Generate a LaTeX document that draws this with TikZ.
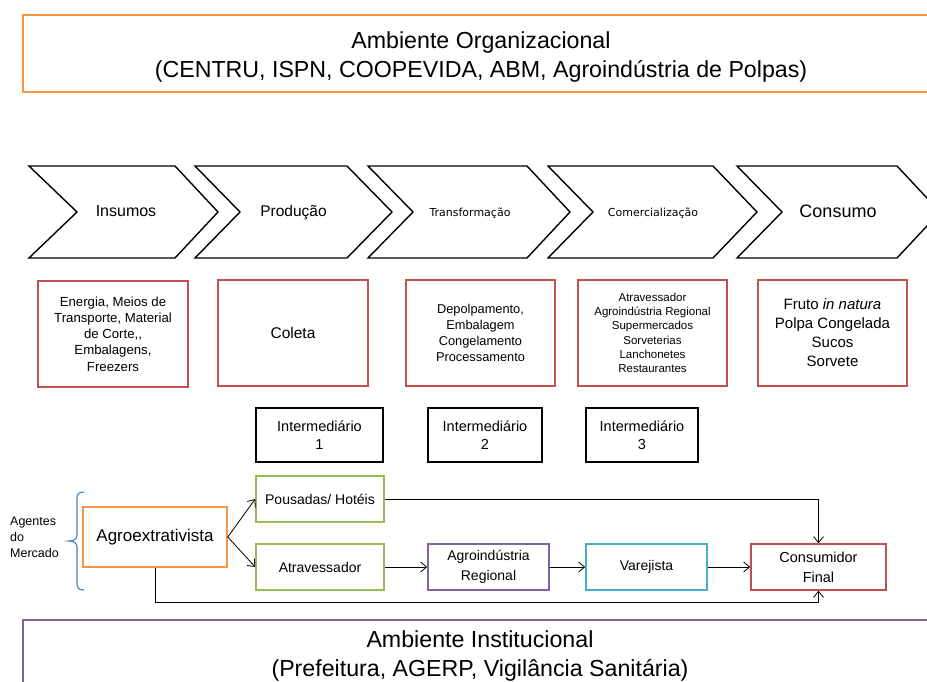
\documentclass[tikz,border=0pt]{standalone}
\usepackage{fontspec}
\setmainfont{Liberation Sans}
\newfontfamily\dejav{DejaVu Sans}
\usetikzlibrary{arrows.meta}
\definecolor{orgorange}{HTML}{F79646}
\definecolor{redbox}{HTML}{C0504D}
\definecolor{greenbox}{HTML}{9BBB59}
\definecolor{purplebox}{HTML}{8064A2}
\definecolor{bluebox}{HTML}{4BACC6}
\definecolor{bracecol}{HTML}{4F81BD}
\begin{document}
\begin{tikzpicture}[x=1pt,y=-1pt,
  envbox/.style={draw, line width=1.6pt, inner sep=0pt},
  envtxt/.style={inner sep=0pt, align=center, font=\fontsize{23.2}{29.5}\selectfont},
  chev/.style={draw=black, line width=1.4pt, line join=miter},
  chlbl/.style={inner sep=0pt, align=center, text height=0.72em, text depth=0pt},
  redbx/.style={draw=redbox, line width=1.6pt, inner sep=0pt, align=center, minimum height=106pt},
  midbx/.style={draw=black, line width=1.8pt, inner sep=0pt, align=center, minimum height=54pt, font=\fontsize{14.5}{18}\selectfont},
  agbx/.style={line width=1.6pt, inner sep=0pt, align=center, minimum height=46pt, font=\fontsize{14}{20}\selectfont},
  arr/.style={-{Straight Barb[length=6pt,width=10pt]}, line width=0.8pt}
]
\clip (0,0) rectangle (927,682);

% organizational environment
\node[envbox, draw=orgorange, minimum width=916pt, minimum height=77pt] (org) at (481,53.5) {};
\node[envtxt] (orgtxt) at (481,57) {Ambiente Organizacional\\(CENTRU, ISPN, COOPEVIDA, ABM, Agroindústria de Polpas)};

% chevrons
\draw[chev] (29,166) -- (175,166) -- (218,212) -- (175,258) -- (29,258) -- (77,212) -- cycle;
\draw[chev] (195,166) -- (347,166) -- (392,212) -- (347,258) -- (195,258) -- (240,212) -- cycle;
\draw[chev] (368,166) -- (527,166) -- (570,212) -- (527,258) -- (368,258) -- (413,212) -- cycle;
\draw[chev] (548,166) -- (713,166) -- (757,212) -- (713,258) -- (548,258) -- (593,212) -- cycle;
\draw[chev] (737,166) -- (897,166) -- (940,212) -- (897,258) -- (737,258) -- (782,212) -- cycle;
\node[chlbl, font=\fontsize{16}{19}\selectfont] (ch1) at (126,213) {Insumos};
\node[chlbl, font=\fontsize{15.5}{19}\selectfont] (ch2) at (293.5,213) {Produção};
\node[chlbl, font=\dejav\fontsize{11}{13}\selectfont] (ch3) at (470,213) {Transformação};
\node[chlbl, font=\dejav\fontsize{11}{13}\selectfont] (ch4) at (653,213) {Comercialização};
\node[chlbl, font=\fontsize{18}{21}\selectfont] (ch5) at (838,214) {Consumo};

% red boxes
\node[redbx, minimum width=150pt, font=\fontsize{13.2}{16.2}\selectfont] (r1) at (113,334)
  {Energia, Meios de\\Transporte, Material\\de Corte,\kern0pt,\\Embalagens,\\Freezers};
\node[redbx, minimum width=150pt, font=\fontsize{15.5}{19}\selectfont] (r2) at (293,333) {Coleta};
\node[redbx, minimum width=149pt, font=\fontsize{12.8}{16}\selectfont] (r3) at (480.5,333)
  {Depolpamento,\\Embalagem\\Congelamento\\Processamento};
\node[redbx, minimum width=149pt, font=\fontsize{11.5}{14.3}\selectfont] (r4) at (652.5,333)
  {Atravessador\\Agroindústria Regional\\Supermercados\\Sorveterias\\Lanchonetes\\Restaurantes};
\node[redbx, minimum width=149pt, font=\fontsize{15}{19}\selectfont] (r5) at (832.5,333)
  {Fruto \textit{in natura}\\Polpa Congelada\\Sucos\\Sorvete};

% intermediaries
\node[midbx, minimum width=127pt] (i1) at (319.5,435) {Intermediário\\1};
\node[midbx, minimum width=114pt] (i2) at (485,435) {Intermediário\\2};
\node[midbx, minimum width=112pt] (i3) at (642,435) {Intermediário\\3};

% market agents
\node[inner sep=0pt, anchor=west, align=left, font=\fontsize{12.5}{16}\selectfont] (agl) at (10,537) {Agentes\\do\\Mercado};
\draw[bracecol, line width=1.2pt] (84,492) .. controls (79,492) and (77,494) .. (77,498) -- (77,535)
  .. controls (77,539) and (74,541) .. (69,541)
  .. controls (74,541) and (77,543) .. (77,547) -- (77,584)
  .. controls (77,588) and (79,590) .. (84,590);

\node[agbx, draw=orgorange, minimum width=144pt, minimum height=60pt, font=\fontsize{17}{20}\selectfont] (agro) at (155,537) {Agroextrativista};
\node[agbx, draw=greenbox, minimum width=128pt] (pous) at (320,499) {Pousadas/ Hotéis};
\node[agbx, draw=greenbox, minimum width=128pt] (atrav) at (320,567) {Atravessador};
\node[agbx, draw=purplebox, minimum width=121pt] (agind) at (488.5,567) {Agroindústria\\Regional};
\node[agbx, draw=bluebox, minimum width=121pt] (varej) at (646.5,567) {Varejista};
\node[agbx, draw=redbox, minimum width=135pt, font=\fontsize{14.5}{20}\selectfont] (cons) at (818.5,567) {Consumidor\\Final};

\coordinate (lowrun) at (818.5,602);
\draw[arr] (agro.east) -- (pous.west);
\draw[arr] (agro.east) -- (atrav.west);
\draw[arr] (atrav) -- (agind);
\draw[arr] (agind) -- (varej);
\draw[arr] (varej) -- (cons);
\draw[arr] (pous.east) -| (cons.north);
\draw[arr] (agro.south) |- (lowrun) -- (cons.south);

% institutional environment
\node[envbox, draw=purplebox, minimum width=914pt, minimum height=76pt] (inst) at (480,658) {};
\node[envtxt] (insttxt) at (480,656) {Ambiente Institucional\\(Prefeitura, AGERP, Vigilância Sanitária)};
\end{tikzpicture}
\end{document}
